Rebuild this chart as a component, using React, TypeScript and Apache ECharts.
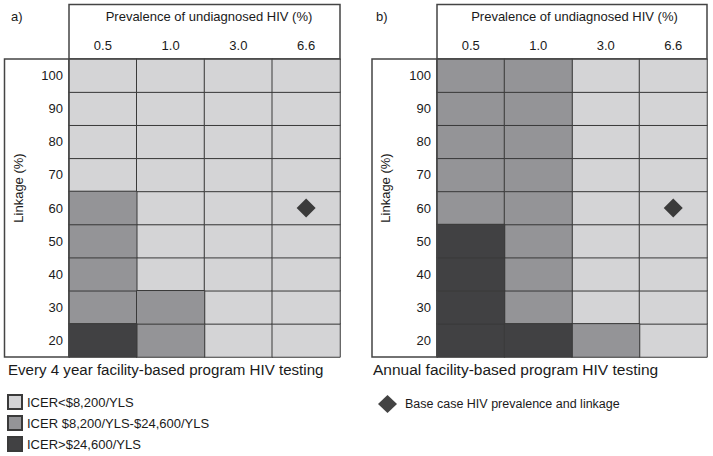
import React, { useEffect, useRef } from "react";
import * as echarts from "echarts";

const prevalence = ["0.5", "1.0", "3.0", "6.6"];
const linkage = ["20", "30", "40", "50", "60", "70", "80", "90", "100"];
const icerLabels = [
  "ICER<$8,200/YLS",
  "ICER $8,200/YLS-$24,600/YLS",
  "ICER>$24,600/YLS",
];
// category code per prevalence column, linkage 20 -> 100
const panelA = [
  [2, 1, 1, 1, 1, 0, 0, 0, 0],
  [1, 1, 0, 0, 0, 0, 0, 0, 0],
  [0, 0, 0, 0, 0, 0, 0, 0, 0],
  [0, 0, 0, 0, 0, 0, 0, 0, 0],
];
const panelB = [
  [2, 2, 2, 2, 1, 1, 1, 1, 1],
  [2, 1, 1, 1, 1, 1, 1, 1, 1],
  [1, 0, 0, 0, 0, 0, 0, 0, 0],
  [0, 0, 0, 0, 0, 0, 0, 0, 0],
];
const baseCase = [["6.6", "60"]];
const baseCaseLabel = "Base case HIV prevalence and linkage";
const captions = [
  "Every 4 year facility-based program HIV testing",
  "Annual facility-based program HIV testing",
];
const panelTags = ["a)", "b)"];
const xTitle = "Prevalence of undiagnosed HIV (%)";
const yTitle = "Linkage (%)";

const colors = ["#d4d4d6", "#949497", "#414143"];
const FONT = "Liberation Sans, Arial, Helvetica, sans-serif";
const TXT = "#1a1a1a";

export default function App() {
  const ref = useRef<HTMLDivElement>(null);
  useEffect(() => {
    if (!ref.current) return;
    const chart = echarts.init(ref.current, undefined, { renderer: "svg" });
    const grids = [
      { left: 69, top: 59, width: 271, height: 298 },
      { left: 437, top: 59, width: 270, height: 298 },
    ];
    const panels = [panelA, panelB];
    const series: any[] = [];
    const heatIdx: number[] = [];
    panels.forEach((panel, p) => {
      icerLabels.forEach((name, c) => {
        const data: number[][] = [];
        panel.forEach((col, xi) =>
          col.forEach((code, yi) => {
            if (code === c) data.push([xi, yi, c]);
          })
        );
        heatIdx.push(series.length);
        series.push({
          type: "heatmap",
          name,
          xAxisIndex: p,
          yAxisIndex: p,
          data,
          itemStyle: { color: colors[c], borderColor: "#3a3a3a", borderWidth: 1 },
          emphasis: { disabled: true },
        });
      });
      series.push({
        type: "scatter",
        name: baseCaseLabel,
        xAxisIndex: p,
        yAxisIndex: p,
        data: baseCase,
        symbol: "diamond",
        symbolSize: 19,
        itemStyle: { color: "#141414" },
        z: 10,
      });
    });

    const namePad = [
      [0, 0, 0, 9],
      [0, 0, 0, 5],
    ];
    const xAxes = grids.map((_, i) => ({
      type: "category",
      gridIndex: i,
      data: prevalence,
      position: "top",
      name: xTitle,
      nameLocation: "middle",
      nameGap: 36,
      nameTextStyle: { fontSize: 13, color: TXT, fontFamily: FONT, padding: namePad[i] },
      axisLine: { show: false },
      axisTick: { show: false },
      splitLine: { show: false },
      axisLabel: { margin: 7, fontSize: 13, color: TXT, fontFamily: FONT },
    }));
    const yAxes = grids.map((_, i) => ({
      type: "category",
      gridIndex: i,
      data: linkage,
      axisLine: { show: false },
      axisTick: { show: false },
      splitLine: { show: false },
      axisLabel: { margin: 6, fontSize: 13, color: TXT, fontFamily: FONT },
    }));

    const frame = (x: number, y: number, w: number, h: number) => ({
      type: "rect",
      shape: { x, y, width: w, height: h },
      style: { fill: "none", stroke: "#444", lineWidth: 1.5 },
      z: 20,
    });
    const txt = (text: string, x: number, y: number, size: number) => ({
      type: "text",
      x,
      y,
      style: {
        text,
        fontSize: size,
        fill: TXT,
        fontFamily: FONT,
        align: "left",
        verticalAlign: "middle",
      },
    });
    const rotTitle = (x: number) => ({
      type: "text",
      x,
      y: 188,
      rotation: Math.PI / 2,
      style: {
        text: yTitle,
        fontSize: 13,
        fill: TXT,
        fontFamily: FONT,
        align: "center",
        verticalAlign: "middle",
      },
    });

    chart.setOption({
      animation: false,
      grid: grids,
      xAxis: xAxes,
      yAxis: yAxes,
      visualMap: {
        type: "piecewise",
        show: false,
        dimension: 2,
        seriesIndex: heatIdx,
        pieces: colors.map((color, i) => ({ value: i, color })),
      },
      series,
      legend: [
        {
          data: icerLabels,
          orient: "vertical",
          left: 7,
          top: 394,
          height: 120,
          padding: 0,
          itemWidth: 14,
          itemHeight: 14,
          itemGap: 5,
          icon: "rect",
          selectedMode: false,
          textStyle: { fontSize: 13, color: TXT, fontFamily: FONT },
        },
        {
          data: [baseCaseLabel],
          orient: "vertical",
          left: 378,
          top: 395,
          padding: 0,
          itemWidth: 19,
          itemHeight: 18,
          selectedMode: false,
          textStyle: { fontSize: 12.5, color: TXT, fontFamily: FONT, padding: [0, 0, 0, 3] },
        },
      ],
      graphic: [
        frame(69, 4.5, 271, 54.5),
        frame(4.5, 59, 64.5, 298),
        frame(437, 4.5, 270, 54.5),
        frame(372, 59, 65, 298),
        txt(panelTags[0], 11, 16, 13),
        txt(panelTags[1], 376, 16, 13),
        rotTitle(18),
        rotTitle(385),
        txt(captions[0], 8, 369, 15.1),
        txt(captions[1], 373, 369, 15.5),
      ],
    });
    return () => chart.dispose();
  }, []);
  return <div ref={ref} style={{ width: 713, height: 456, position: "absolute", left: 0, top: 0, background: "#fff" }} />;
}
